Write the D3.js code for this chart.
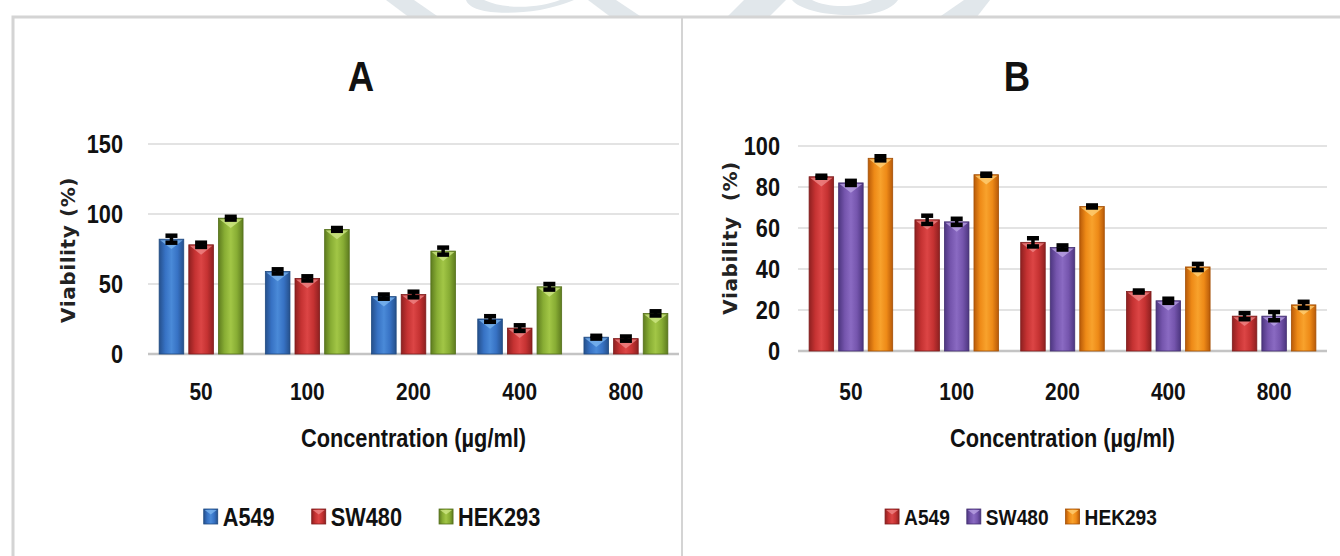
<!DOCTYPE html>
<html>
<head>
<meta charset="utf-8">
<script src="https://cdn.jsdelivr.net/npm/d3@7"></script>
<style>
  body { margin: 0; background: #fff; }
  svg { display: block; }
  .cal { font-family: "Liberation Sans", Arial, sans-serif; font-weight: bold; fill: #111; }
  .ytitle { font-family: "DejaVu Sans", Verdana, sans-serif; font-weight: bold; fill: #222; white-space: pre; }
</style>
</head>
<body>
<svg id="chart" width="1340" height="556"></svg>
<script>
// ---- data ----
const categories = ["50", "100", "200", "400", "800"];
const seriesNames = ["A549", "SW480", "HEK293"];

// Panel A: viability (%) per concentration
const panelA_A549   = [82, 59, 41, 25, 12];
const panelA_SW480  = [78, 54, 42.5, 18.5, 11];
const panelA_HEK293 = [97, 89, 73.5, 48, 29];
const panelA_A549_err   = [2.5, 1.5, 1.5, 2, 1];
const panelA_SW480_err  = [1.5, 1.5, 2, 2, 1.5];
const panelA_HEK293_err = [1, 1, 2.5, 2, 1.5];
const panelA_ticks = [0, 50, 100, 150];

// Panel B: viability (%) per concentration
const panelB_A549   = [85, 64, 53, 29, 17];
const panelB_SW480  = [82, 63, 50.5, 24.5, 17];
const panelB_HEK293 = [94, 86, 70.5, 41, 22.5];
const panelB_A549_err   = [0.5, 2, 2, 0.5, 1.5];
const panelB_SW480_err  = [1, 1.5, 1, 1, 2];
const panelB_HEK293_err = [1, 0.5, 0.5, 1.5, 1.5];
const panelB_ticks = [0, 20, 40, 60, 80, 100];

// ---- drawing ----
const SQUEEZE = 0.87;   // horizontal compression for the condensed label face
const svg = d3.select("#chart");
const defs = svg.append("defs");

// narrow a text element horizontally while keeping its anchor point in place
function squeeze(sel) {
  sel.each(function () {
    const t = d3.select(this);
    const x = +t.attr("x") || 0;
    t.attr("x", x / SQUEEZE).attr("transform", `scale(${SQUEEZE},1)`);
  });
}

// faint background logo strip above the frame
const wm = svg.append("g").attr("fill", "#e1e7eb");
[
  "M386,0 L414,0 L440,18 L410,18 Z",
  "M466,0 C470,12 500,16 540,10 C556,7 566,3 574,0 L560,0 C540,8 505,10 484,0 Z",
  "M588,0 L616,0 L643,18 L612,18 Z",
  "M744,0 L786,0 L768,18 L726,18 Z",
  "M792,0 C800,10 830,18 870,14 C884,12 894,6 898,0 L872,0 C856,8 828,8 812,0 Z",
  "M964,0 L990,0 L976,18 L938,18 Z"
].forEach(p => wm.append("path").attr("d", p));

// frame
svg.append("rect").attr("x", 13).attr("y", 17).attr("width", 1340).attr("height", 560)
  .attr("fill", "#fff").attr("stroke", "#d4d4d4").attr("stroke-width", 3);
svg.append("line").attr("x1", 682).attr("x2", 682).attr("y1", 17).attr("y2", 556)
  .attr("stroke", "#d4d4d4").attr("stroke-width", 2);

function makeGradient(id, dark, mid, light) {
  const g = defs.append("linearGradient").attr("id", id)
    .attr("x1", "0").attr("x2", "1").attr("y1", "0").attr("y2", "0");
  g.append("stop").attr("offset", "0%").attr("stop-color", dark);
  g.append("stop").attr("offset", "25%").attr("stop-color", mid);
  g.append("stop").attr("offset", "50%").attr("stop-color", light);
  g.append("stop").attr("offset", "75%").attr("stop-color", mid);
  g.append("stop").attr("offset", "100%").attr("stop-color", dark);
}

const palette = {
  blue:   { dark: "#25508c", mid: "#3772c4", light: "#4a8ad8", hi: "#7fb8f0", line: "#1f4a80" },
  red:    { dark: "#8e2020", mid: "#c53232", light: "#dc4545", hi: "#f08a8a", line: "#7e1c1c" },
  green:  { dark: "#5e7c1f", mid: "#88ad34", light: "#a2c646", hi: "#d2ea8a", line: "#546f1b" },
  purple: { dark: "#4d3680", mid: "#7555ad", light: "#8a6ac2", hi: "#bca6e6", line: "#432f70" },
  orange: { dark: "#b85a08", mid: "#ee8a17", light: "#f8a22c", hi: "#ffd27a", line: "#a45006" }
};
Object.entries(palette).forEach(([k, c]) => makeGradient("grad-" + k, c.dark, c.mid, c.light));

function bevelBar(g, x, yTop, w, h, colorKey) {
  const c = palette[colorKey];
  g.append("rect").attr("x", x).attr("y", yTop).attr("width", w).attr("height", h)
    .attr("fill", `url(#grad-${colorKey})`).attr("stroke", c.line).attr("stroke-width", 0.8);
  const th = Math.min(w * 0.4, h);
  g.append("path")
    .attr("d", `M${x + 1},${yTop + 1} L${x + w - 1},${yTop + 1} L${x + w / 2},${yTop + th} Z`)
    .attr("fill", c.hi).attr("opacity", 0.75);
}

function drawPanel(o) {
  const g = svg.append("g");
  const x0 = d3.scaleBand().domain(categories).range([o.left, o.right])
    .paddingInner(0.21).paddingOuter(0.105);
  const x1 = d3.scaleBand().domain(seriesNames).range([0, x0.bandwidth()]).paddingInner(0.17);
  const y = d3.scaleLinear().domain([0, o.yMax]).range([o.bottom, o.top]);

  // gridlines
  g.append("g").selectAll("line").data(o.ticks).join("line")
    .attr("x1", o.left).attr("x2", o.right)
    .attr("y1", d => y(d)).attr("y2", d => y(d))
    .attr("stroke", d => d === 0 ? "#c4c4c4" : "#dadada")
    .attr("stroke-width", d => d === 0 ? 2.5 : 1.5);

  // y axis
  const ya = g.append("g").attr("transform", `translate(${o.left},0)`)
    .call(d3.axisLeft(y).tickValues(o.ticks).tickSize(0).tickPadding(o.yPad));
  ya.select(".domain").remove();
  ya.selectAll("text").attr("class", "cal").attr("font-size", 25).attr("font-family", null).call(squeeze);

  // x axis
  const xa = g.append("g").attr("transform", `translate(0,${o.bottom})`)
    .call(d3.axisBottom(x0).tickSize(0).tickPadding(392 - o.bottom - 9));
  xa.select(".domain").remove();
  xa.selectAll("text").attr("class", "cal").attr("font-size", 24).attr("font-family", null).call(squeeze);

  // bars
  const bars = g.append("g");
  o.values.forEach((vals, si) => {
    vals.forEach((v, ci) => {
      const bx = x0(categories[ci]) + x1(seriesNames[si]);
      bevelBar(bars, bx, y(v), x1.bandwidth(), y(0) - y(v), o.colors[si]);
    });
  });

  // error bars
  const eb = g.append("g").attr("stroke", "#000");
  o.values.forEach((vals, si) => {
    vals.forEach((v, ci) => {
      const cx = x0(categories[ci]) + x1(seriesNames[si]) + x1.bandwidth() / 2;
      const e = o.errors[si][ci];
      const hi = y(v + e), lo = y(v - e);
      eb.append("line").attr("x1", cx).attr("x2", cx).attr("y1", hi).attr("y2", lo).attr("stroke-width", 3.5);
      [hi, lo].forEach(yy => eb.append("line")
        .attr("x1", cx - 6).attr("x2", cx + 6).attr("y1", yy).attr("y2", yy).attr("stroke-width", 4.5));
    });
  });

  // titles
  g.append("text").attr("class", "cal").attr("font-size", 42)
    .attr("x", o.titleX).attr("y", 76).attr("text-anchor", "middle").attr("dominant-baseline", "central")
    .text(o.title).call(squeeze);
  g.append("text").attr("class", "cal").attr("font-size", 25)
    .attr("x", (o.left + o.right) / 2).attr("y", 438)
    .attr("text-anchor", "middle").attr("dominant-baseline", "central")
    .text("Concentration (µg/ml)").call(squeeze);
  g.append("text").attr("class", "ytitle").attr("font-size", 20).attr("letter-spacing", 0.6)
    .attr("transform", `translate(${o.yTitleX},${o.yTitleY}) rotate(-90)`)
    .attr("text-anchor", "middle").attr("dominant-baseline", "central")
    .text(o.yTitle);

  // legend
  const lg = g.append("g");
  const items = seriesNames.map((name, i) => {
    const it = lg.append("g");
    const sw = it.append("g");
    bevelBar(sw, 0, -7, 14, 15, o.colors[i]);
    const t = it.append("text").attr("class", "cal").attr("font-size", o.legendSize)
      .attr("x", 19).attr("y", 1).attr("dominant-baseline", "central").text(name);
    const w = 19 + t.node().getComputedTextLength() * SQUEEZE;
    t.call(squeeze);
    return { it, w };
  });
  const total = d3.sum(items, d => d.w) + o.legendGap * (items.length - 1);
  let cx = o.legendCenter - total / 2;
  items.forEach(d => { d.it.attr("transform", `translate(${cx},516)`); cx += d.w + o.legendGap; });
}

drawPanel({
  left: 148, right: 679, top: 144, bottom: 354, yMax: 150, ticks: panelA_ticks, yPad: 25,
  values: [panelA_A549, panelA_SW480, panelA_HEK293],
  errors: [panelA_A549_err, panelA_SW480_err, panelA_HEK293_err],
  colors: ["blue", "red", "green"],
  title: "A", titleX: 361,
  yTitle: "Viability (%)", yTitleX: 68, yTitleY: 250,
  legendCenter: 372, legendGap: 37, legendSize: 25
});

drawPanel({
  left: 798, right: 1327, top: 146, bottom: 351, yMax: 100, ticks: panelB_ticks, yPad: 18,
  values: [panelB_A549, panelB_SW480, panelB_HEK293],
  errors: [panelB_A549_err, panelB_SW480_err, panelB_HEK293_err],
  colors: ["red", "purple", "orange"],
  title: "B", titleX: 1017,
  yTitle: "Viability  (%)", yTitleX: 730, yTitleY: 238,
  legendCenter: 1021, legendGap: 17, legendSize: 22
});
</script>
</body>
</html>
